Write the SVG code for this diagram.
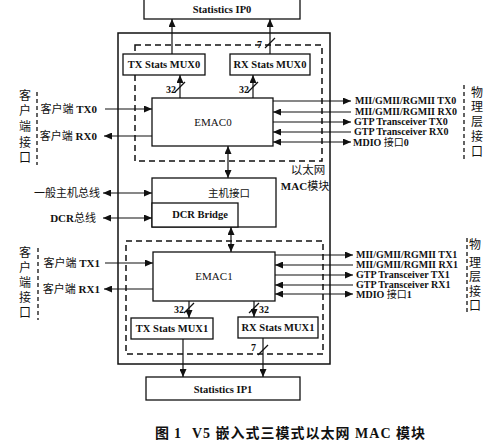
<svg xmlns="http://www.w3.org/2000/svg" width="500" height="448" viewBox="0 0 500 448">
<defs>
<marker id="ah" markerUnits="userSpaceOnUse" markerWidth="8" markerHeight="7" refX="8" refY="3.5" orient="auto-start-reverse"><path d="M0,0 L8,3.5 L0,7 z" fill="#111"/></marker>
<style>
.box{fill:#fff;stroke:#111;stroke-width:1.3}
.solid{fill:none;stroke:#111;stroke-width:1.5}
.dash{fill:none;stroke:#111;stroke-width:1.5;stroke-dasharray:6,4}
.ln{stroke:#111;stroke-width:1.2;fill:none}
.a{marker-end:url(#ah)}
.b{marker-start:url(#ah);marker-end:url(#ah)}
text{font-family:"Liberation Serif","Noto Sans CJK SC",serif;fill:#111}
.lb{font-size:10.5px;font-weight:bold;text-anchor:middle}
.em{font-size:11px;text-anchor:middle}
.rt{font-size:10px;font-weight:bold}
.cl{font-size:11px;font-weight:bold;text-anchor:end}
.zh{font-weight:normal}
.vt{font-size:12px;text-anchor:middle}
.n{font-size:10px;font-weight:bold}
</style>
</defs>
<rect width="500" height="448" fill="#fff"/>
<g id="frame">
<rect class="solid" x="118" y="33" width="212" height="331"/>
<rect class="dash" x="135" y="45" width="187" height="116"/>
<rect class="dash" x="126" y="241" width="197" height="113"/>
<text x="308" y="174" class="em" style="font-size:11.5px">以太网</text>
<text x="305" y="190" class="em"><tspan style="font-weight:bold">MAC</tspan>模块</text>
<line class="dash" x1="37" y1="92" x2="37" y2="165" style="stroke-width:1.3;stroke-dasharray:4,3"/>
<line class="dash" x1="38" y1="248" x2="38" y2="320" style="stroke-width:1.3;stroke-dasharray:4,3"/>
<line class="dash" x1="464" y1="85" x2="464" y2="160" style="stroke-width:1.3;stroke-dasharray:4,3"/>
<line class="dash" x1="467" y1="238" x2="467" y2="313" style="stroke-width:1.3;stroke-dasharray:4,3"/>
<text class="vt"><tspan x="25" y="100">客</tspan><tspan x="25" y="115">户</tspan><tspan x="25" y="131">端</tspan><tspan x="25" y="147">接</tspan><tspan x="25" y="162">口</tspan></text>
<text class="vt"><tspan x="25" y="257">客</tspan><tspan x="25" y="272">户</tspan><tspan x="25" y="287">端</tspan><tspan x="25" y="302">接</tspan><tspan x="25" y="317">口</tspan></text>
<text class="vt"><tspan x="477" y="97">物</tspan><tspan x="477" y="111">理</tspan><tspan x="477" y="126">层</tspan><tspan x="477" y="141">接</tspan><tspan x="477" y="156">口</tspan></text>
<text class="vt"><tspan x="475" y="249">物</tspan><tspan x="475" y="267">理</tspan><tspan x="475" y="281">层</tspan><tspan x="475" y="296">接</tspan><tspan x="475" y="310">口</tspan></text>
</g>
<g id="stats-ip0"><rect class="box" x="144" y="-5" width="156" height="24"/><text x="222" y="13" class="lb">Statistics IP0</text></g>
<g id="tx-mux0"><rect class="box" x="123" y="54" width="82" height="21"/><text x="164" y="68" class="lb">TX Stats MUX0</text></g>
<g id="rx-mux0"><rect class="box" x="230" y="54" width="80" height="21"/><text x="270" y="68" class="lb">RX Stats MUX0</text></g>
<g id="emac0"><rect class="box" x="152" y="98" width="121" height="48"/><text x="213" y="126" class="em">EMAC0</text></g>
<g id="host"><rect class="box" x="152" y="178" width="124" height="49"/><text x="229" y="197" class="em" style="font-size:10.5px">主机接口</text></g>
<g id="dcr-bridge"><rect class="box" x="152" y="203" width="86" height="24"/><text x="200" y="218" class="lb">DCR Bridge</text></g>
<g id="emac1"><rect class="box" x="153" y="252" width="122" height="49"/><text x="214" y="280" class="em">EMAC1</text></g>
<g id="tx-mux1"><rect class="box" x="131" y="318" width="82" height="21"/><text x="172" y="332" class="lb">TX Stats MUX1</text></g>
<g id="rx-mux1"><rect class="box" x="238" y="317" width="80" height="21"/><text x="278" y="331" class="lb">RX Stats MUX1</text></g>
<g id="stats-ip1"><rect class="box" x="146" y="377" width="154" height="23"/><text x="223" y="393" class="lb">Statistics IP1</text></g>
<g id="connectors">
<line class="ln a" x1="172" y1="54" x2="172" y2="19"/>
<line class="ln a" x1="270" y1="54" x2="270" y2="19"/>
<line class="ln" x1="265" y1="48" x2="275" y2="38"/>
<text x="257" y="48" class="n">7</text>
<line class="ln a" x1="180" y1="98" x2="180" y2="75"/>
<line class="ln" x1="175" y1="92" x2="185" y2="82"/>
<text x="176" y="93" class="n" text-anchor="end">32</text>
<line class="ln a" x1="253" y1="98" x2="253" y2="75"/>
<line class="ln" x1="248" y1="92" x2="258" y2="82"/>
<text x="249" y="93" class="n" text-anchor="end">32</text>
<line class="ln a" x1="105" y1="109" x2="152" y2="109"/>
<line class="ln a" x1="152" y1="136" x2="104" y2="136"/>
<line class="ln a" x1="273" y1="101" x2="351" y2="101"/>
<line class="ln a" x1="351" y1="112" x2="273" y2="112"/>
<line class="ln a" x1="273" y1="122" x2="351" y2="122"/>
<line class="ln a" x1="351" y1="132" x2="273" y2="132"/>
<line class="ln b" x1="273" y1="142" x2="351" y2="142"/>
<line class="ln b" x1="228" y1="146" x2="228" y2="178"/>
<line class="ln b" x1="103" y1="193" x2="152" y2="193"/>
<line class="ln b" x1="103" y1="218" x2="152" y2="218"/>
<line class="ln b" x1="231" y1="227" x2="231" y2="252"/>
<line class="ln a" x1="105" y1="263" x2="153" y2="263"/>
<line class="ln a" x1="153" y1="289" x2="104" y2="289"/>
<line class="ln a" x1="275" y1="255" x2="353" y2="255"/>
<line class="ln a" x1="353" y1="265" x2="275" y2="265"/>
<line class="ln a" x1="275" y1="275" x2="353" y2="275"/>
<line class="ln a" x1="353" y1="285" x2="275" y2="285"/>
<line class="ln b" x1="275" y1="294" x2="353" y2="294"/>
<line class="ln a" x1="189" y1="301" x2="189" y2="318"/>
<line class="ln" x1="184" y1="313" x2="194" y2="303"/>
<text x="184" y="313" class="n" text-anchor="end">32</text>
<line class="ln a" x1="254" y1="301" x2="254" y2="317"/>
<line class="ln" x1="249" y1="313" x2="259" y2="303"/>
<text x="259" y="313" class="n">32</text>
<line class="ln a" x1="183" y1="339" x2="183" y2="377"/>
<line class="ln a" x1="263" y1="338" x2="263" y2="377"/>
<line class="ln" x1="258" y1="355" x2="268" y2="345"/>
<text x="251" y="351" class="n">7</text>
</g>
<g id="labels">
<text x="97" y="113" class="cl"><tspan class="zh">客户端</tspan> TX0</text>
<text x="97" y="140" class="cl"><tspan class="zh">客户端</tspan> RX0</text>
<text x="100" y="197" class="cl zh">一般主机总线</text>
<text x="96" y="222" class="cl">DCR<tspan class="zh">总线</tspan></text>
<text x="100" y="267" class="cl"><tspan class="zh">客户端</tspan> TX1</text>
<text x="100" y="293" class="cl"><tspan class="zh">客户端</tspan> RX1</text>
<text x="355" y="104" class="rt">MII/GMII/RGMII TX0</text>
<text x="355" y="115" class="rt">MII/GMII/RGMII RX0</text>
<text x="354" y="125" class="rt">GTP Transceiver TX0</text>
<text x="354" y="135" class="rt">GTP Transceiver RX0</text>
<text x="353" y="146" class="rt">MDIO <tspan class="zh">接口</tspan>0</text>
<text x="356" y="258" class="rt">MII/GMII/RGMII TX1</text>
<text x="356" y="268" class="rt">MII/GMII/RGMII RX1</text>
<text x="356" y="278" class="rt">GTP Transceiver TX1</text>
<text x="356" y="288" class="rt">GTP Transceiver RX1</text>
<text x="356" y="298" class="rt">MDIO <tspan class="zh">接口</tspan>1</text>
<text y="438" style="font-size:14px;font-weight:bold"><tspan x="155">图</tspan><tspan x="174">1</tspan><tspan x="192" style="letter-spacing:1px">V5 嵌入式三模式以太网 MAC 模块</tspan></text>
</g>
</svg>
